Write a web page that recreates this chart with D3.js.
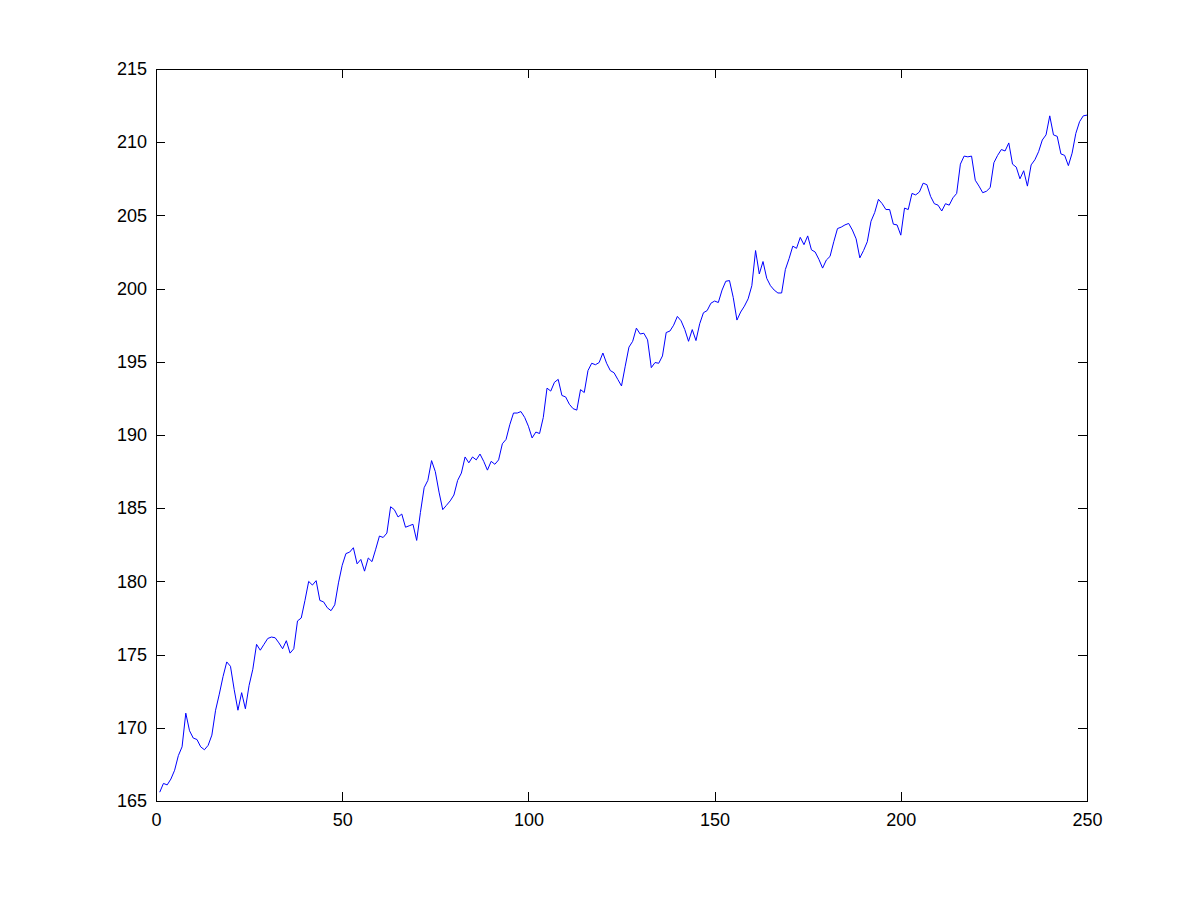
<!DOCTYPE html>
<html><head><meta charset="utf-8">
<script src="https://cdn.jsdelivr.net/npm/d3@7/dist/d3.min.js"></script>
<style>body{margin:0;background:#fff;} svg{display:block;}</style>
</head><body>
<script>
const values = [
165.6,166.2,166.1,166.5,167.1,168.1,168.7,171.0,169.8,169.3,
169.2,168.7,168.5,168.8,169.5,171.2,172.3,173.5,174.5,174.2,
172.6,171.2,172.4,171.3,172.9,174.0,175.7,175.3,175.7,176.1,
176.2,176.15,175.8,175.4,175.95,175.1,175.4,177.3,177.5,178.7,
180.0,179.75,180.05,178.7,178.6,178.2,178.0,178.4,179.9,181.1,
181.9,182.0,182.3,181.2,181.5,180.7,181.6,181.35,182.2,183.1,
183.0,183.3,185.1,184.9,184.4,184.6,183.7,183.8,183.9,182.8,
184.7,186.4,186.9,188.25,187.5,186.1,184.9,185.2,185.5,185.9,
186.9,187.4,188.5,188.1,188.5,188.3,188.7,188.2,187.6,188.2,
188.0,188.3,189.4,189.7,190.7,191.5,191.5,191.6,191.2,190.6,
189.8,190.2,190.1,191.2,193.2,193.0,193.6,193.8,192.7,192.6,
192.1,191.8,191.7,193.1,192.9,194.4,194.9,194.8,194.95,195.6,
194.9,194.4,194.25,193.8,193.35,194.7,196.0,196.4,197.3,196.9,
196.95,196.5,194.6,194.95,194.9,195.4,197.0,197.1,197.5,198.1,
197.8,197.2,196.4,197.2,196.45,197.6,198.35,198.5,199.0,199.15,
199.05,199.9,200.5,200.55,199.4,197.85,198.4,198.8,199.3,200.2,
202.6,201.0,201.85,200.7,200.2,199.9,199.7,199.7,201.3,202.05,
202.9,202.75,203.5,203.0,203.6,202.65,202.5,202.0,201.4,201.95,
202.2,203.2,204.1,204.2,204.35,204.45,204.0,203.4,202.1,202.6,
203.2,204.6,205.2,206.1,205.8,205.4,205.4,204.4,204.35,203.65,
205.5,205.4,206.5,206.4,206.6,207.2,207.1,206.3,205.8,205.7,
205.3,205.8,205.7,206.2,206.5,208.5,209.05,209.0,209.05,207.4,
207.0,206.55,206.65,206.9,208.6,209.1,209.5,209.4,209.95,208.5,
208.3,207.5,208.05,207.0,208.45,208.8,209.35,210.15,210.5,211.8,
210.5,210.4,209.2,209.1,208.4,209.25,210.6,211.4,211.8,211.85
];
const xTicks = [0,50,100,150,200,250];
const yTicks = [165,170,175,180,185,190,195,200,205,210,215];
const xDomain = [0,250];
const yDomain = [165,215];

(function () {
const W = 1201, H = 901;
const L = 156, R = 1087, T = 69, B = 801;
const svg = d3.select("body").append("svg").attr("width", W).attr("height", H);
const x = d3.scaleLinear().domain(xDomain).range([L, R]);
const y = d3.scaleLinear().domain(yDomain).range([B, T]);
const font = "'Liberation Sans', Arial, sans-serif";
const fs = 18, tl = 9;

svg.append("rect").attr("x", L).attr("y", T).attr("width", R - L).attr("height", B - T)
  .attr("fill", "#fff").attr("stroke", "#000").attr("stroke-width", 1).attr("shape-rendering", "crispEdges");

function styleAxis(g) {
  g.select(".domain").remove();
  g.selectAll("line").attr("stroke", "#000").attr("shape-rendering", "crispEdges");
  g.selectAll("text").attr("font-family", font).attr("font-size", fs).attr("fill", "#000");
}
const gBottom = svg.append("g").attr("transform", `translate(0,${B})`)
  .call(d3.axisBottom(x).tickValues(xTicks).tickSize(-tl).tickPadding(12).tickFormat(d3.format("d")));
styleAxis(gBottom);
const gTop = svg.append("g").attr("transform", `translate(0,${T})`)
  .call(d3.axisTop(x).tickValues(xTicks).tickSize(-tl).tickFormat(""));
styleAxis(gTop);
const gLeft = svg.append("g").attr("transform", `translate(${L},0)`)
  .call(d3.axisLeft(y).tickValues(yTicks).tickSize(-tl).tickPadding(9).tickFormat(d3.format("d")));
styleAxis(gLeft);
const gRight = svg.append("g").attr("transform", `translate(${R},0)`)
  .call(d3.axisRight(y).tickValues(yTicks).tickSize(-tl).tickFormat(""));
styleAxis(gRight);

const line = d3.line().x((d, i) => x(i + 1)).y(d => y(d));
svg.append("path").datum(values).attr("d", line)
  .attr("fill", "none").attr("stroke", "#0000ff").attr("stroke-width", 1);
})();
</script>
</body></html>
